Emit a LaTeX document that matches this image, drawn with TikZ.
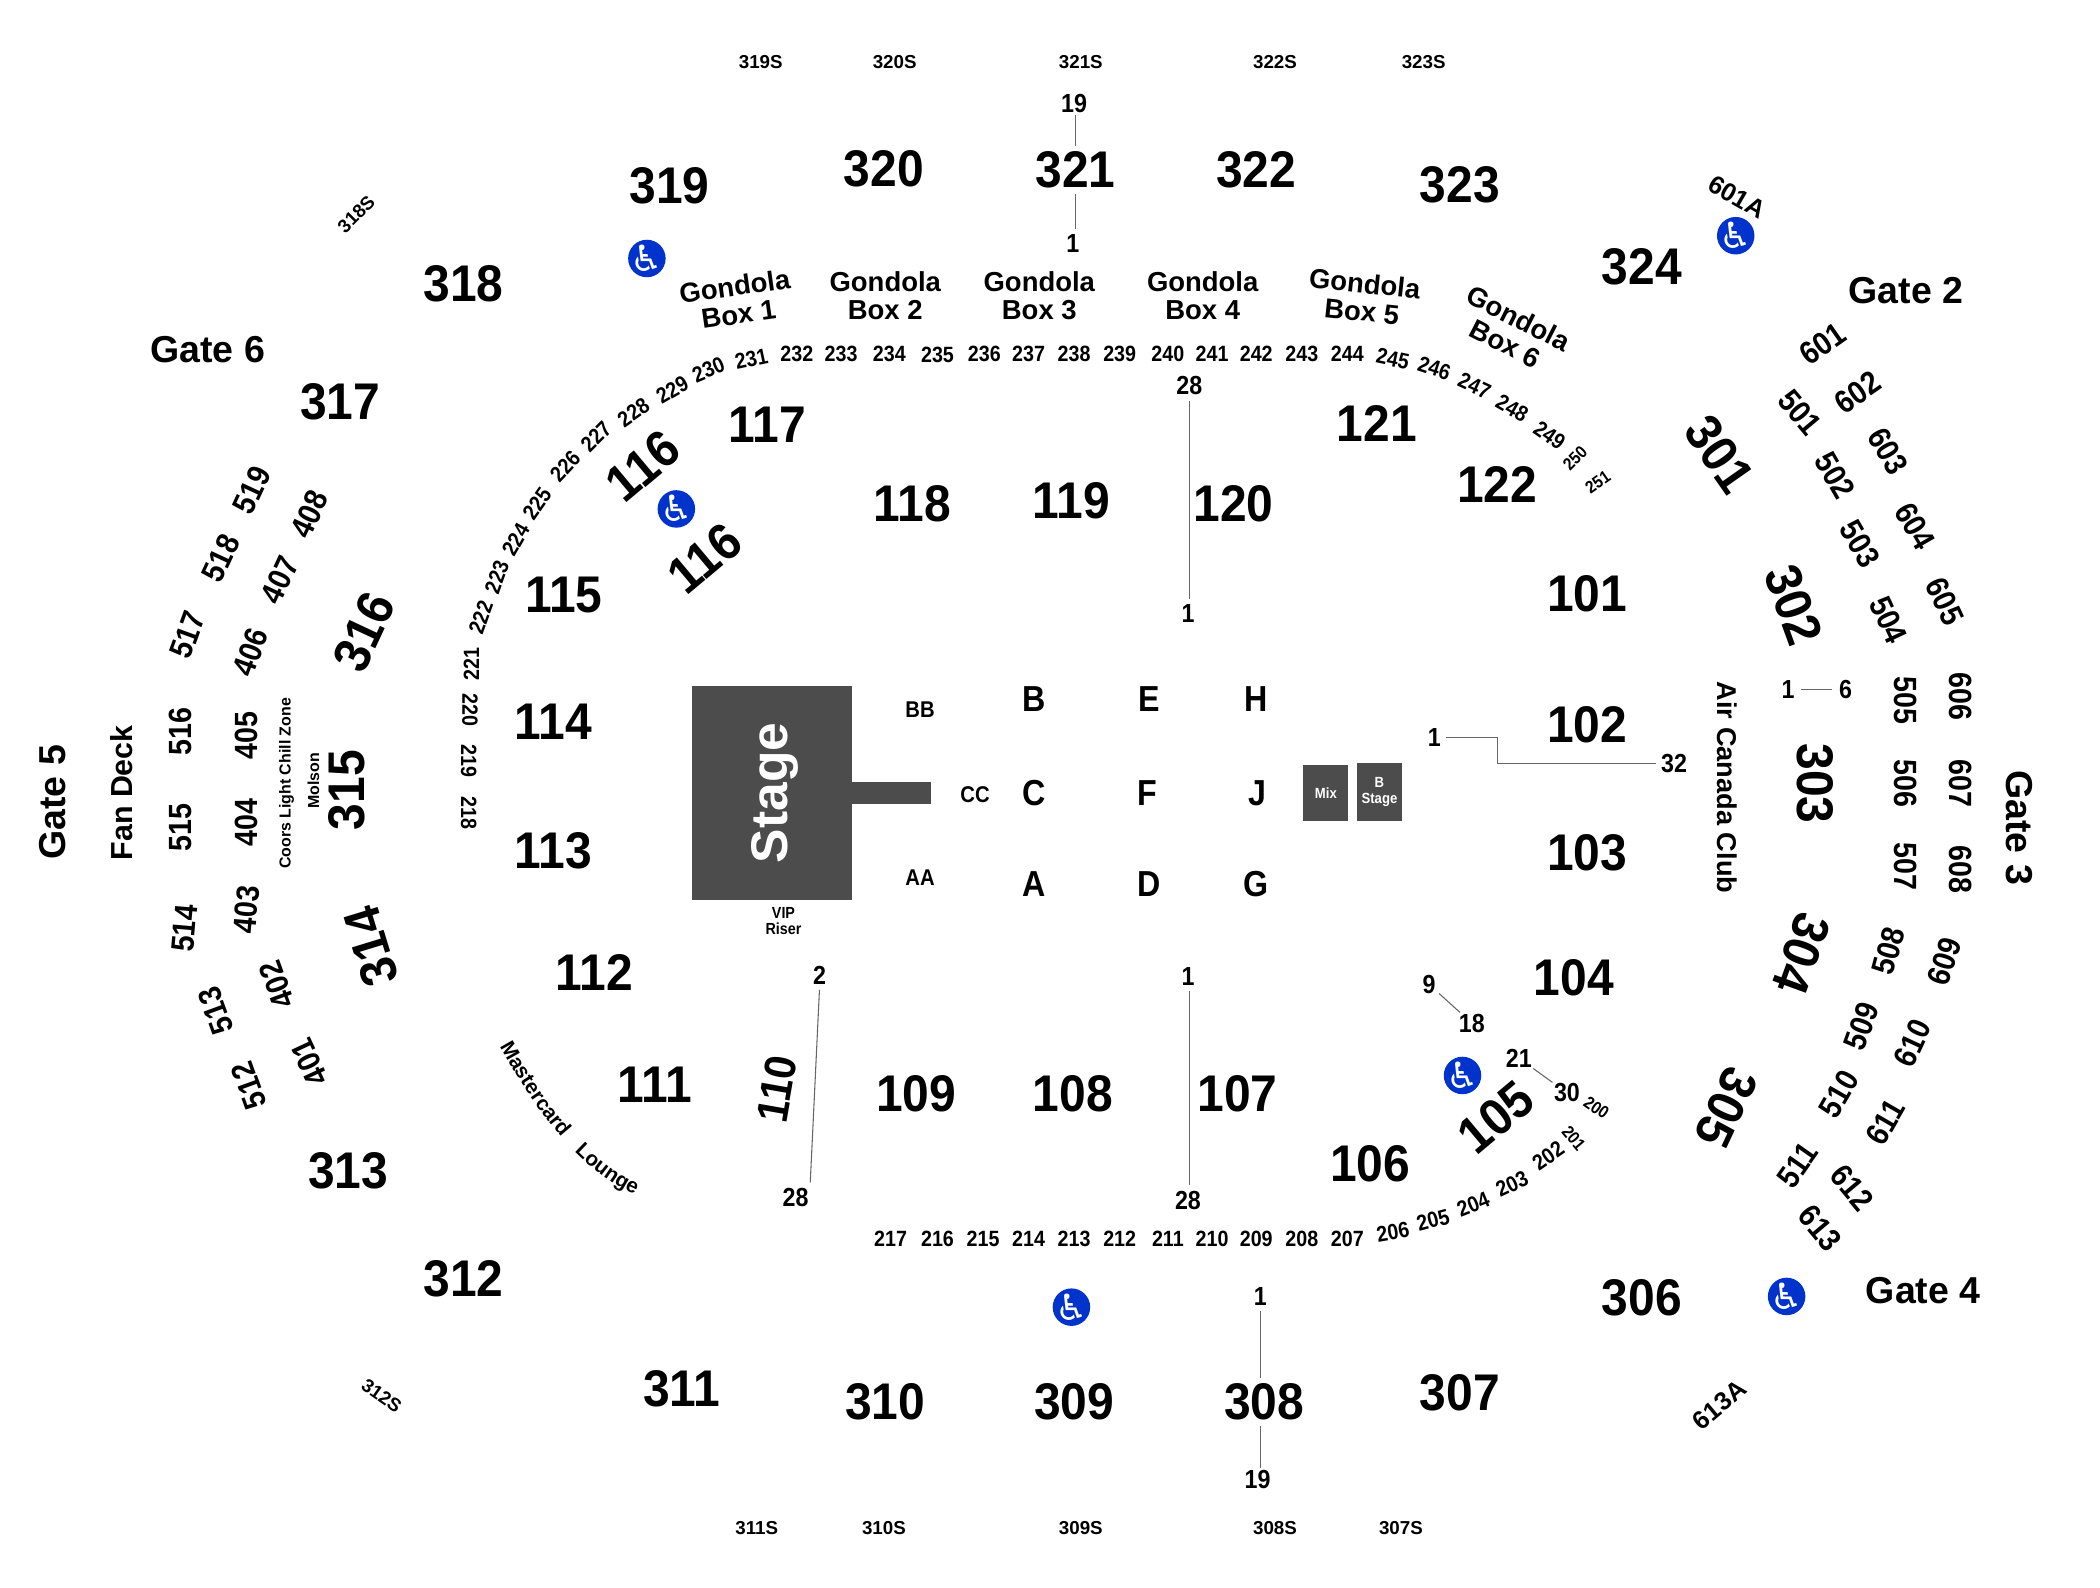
\documentclass[tikz,border=0pt]{standalone}
\usepackage{fontspec}
\setmainfont{Liberation Sans}
\newfontfamily\signfont{DejaVu Sans}
\newfontfamily\numfont[FakeStretch=0.89]{Liberation Sans}
\newfontfamily\secfont[FakeStretch=0.93]{Liberation Sans}
\usepackage{tikz}
\usetikzlibrary{decorations.text}

\begin{document}
\begin{tikzpicture}[x=1pt,y=-1pt,
          every node/.style={inner sep=1pt},
          secnum/.style={font=\secfont\bfseries\fontsize{38.5}{38}\selectfont},
          gatelab/.style={font=\bfseries\fontsize{28}{28}\selectfont},
          tiernum/.style={font=\numfont\bfseries\fontsize{24}{24}\selectfont},
          rownum/.style={font=\numfont\bfseries\fontsize{19.5}{20}\selectfont},
          boxnum/.style={font=\numfont\bfseries\fontsize{16.5}{16}\selectfont},
          tinynum/.style={font=\numfont\bfseries\fontsize{13}{13}\selectfont},
          standlab/.style={font=\bfseries\fontsize{14}{14}\selectfont},
          floorlab/.style={font=\numfont\bfseries\fontsize{27}{27}\selectfont},
          gondola/.style={font=\bfseries\fontsize{20.5}{21}\selectfont,align=center},
          darkbox/.style={fill=black!70,text=white,inner sep=0pt},
          access/.style={circle,fill=accessblue,text=white,minimum size=28,inner sep=0pt,font=\signfont\fontsize{27}{27}\selectfont},
          rowline/.style={draw=black!60,line width=0.8pt}]
        \definecolor{accessblue}{HTML}{0033CC}
        \newcommand{\accesssign}{\raisebox{-.36em}[0pt][0pt]{\makebox[0pt]{♿}}}
        \useasboundingbox (0,0) rectangle (1568,1185.7);

        % stage and floor
        \node[darkbox,rotate=90,minimum width=160,minimum height=119,font=\bfseries\fontsize{38.5}{38}\selectfont] (stage) at (576.5,592) {\raisebox{-11.5pt}[0pt][0pt]{Stage}};
        \node[darkbox,minimum width=59,minimum height=16] (runway) at (665.5,592) {};
        \node[darkbox,minimum width=33.5,minimum height=42,font=\numfont\bfseries\fontsize{11}{11}\selectfont] (mix) at (990,592) {Mix};
        \node[darkbox,minimum width=34,minimum height=43,align=center,font=\numfont\bfseries\fontsize{11}{12}\selectfont] (bstage) at (1030,591.5) {B\\Stage};
        \node[font=\numfont\bfseries\fontsize{12}{12}\selectfont,align=center] (vip) at (585,688) {VIP\\Riser};
        \foreach \n/\x/\y in {B/772/522,E/858/522,H/938/522,C/772/592,F/857/592,J/939/592,A/772/660,D/858/660,G/938/660}
          \node[floorlab] (L\n) at (\x,\y) {\n};
        \foreach \n/\x/\y in {BB/687/530,AA/687/655,CC/728/593}
          \node[font=\numfont\bfseries\fontsize{17}{17}\selectfont] (L\n) at (\x,\y) {\n};

        % lower bowl
        \foreach \n/\x/\y/\r in {101/1185/443/0,102/1185/541/0,103/1185/637/0,104/1175/730/0,105/1117/834/40,
            106/1023/869/0,107/924/817/0,108/801/817/0,109/684/817/0,111/489/810/0,112/444/726/0,
            113/413/635/0,114/413/539/0,115/421/444/0,117/573/317/0,118/681/376/0,119/800/374/0,120/921/376/0,
            121/1028/316/0,122/1118/362/0}
          \node[secnum,rotate=\r] (S\n) at (\x,\y) {\n};
        \node[secnum,rotate=80,font=\secfont\bfseries\fontsize{33}{33}\selectfont] (S110) at (580,813) {110};
        \node[secnum,rotate=40] (S116a) at (480,348) {116};
        \node[secnum,rotate=40] (S116b) at (526,417) {116};

        % upper bowl
        \foreach \n/\x/\y/\r in {301/1284/339/-55,302/1339/452/-70,303/1355/585/-90,304/1345/712/-110,305/1289/827/-115,
            306/1226/969/0,307/1090/1040/0,308/944/1047/0,309/802/1047/0,310/661/1047/0,311/509/1037/0,312/346/955/0,
            313/260/874/0,314/277/707/107,315/259/590/90,316/272/472/65,317/254/300/0,318/346/212/0,319/500/139/0,
            320/660/126/0,321/803/127/0,322/938/127/0,323/1090/138/0,324/1226/199/0}
          \node[secnum,rotate=\r] (S\n) at (\x,\y) {\n};

        % outer tiers
        \foreach \n/\x/\y/\r in {401/231/793/115,402/207/735/110,403/184/679/85,404/184/614/90,405/184/549/90,406/187/487/70,
            407/209/433/65,408/231/384/65,501/1344/308/-50,502/1370/355/-60,503/1389/406/-60,504/1410/463/-65,505/1423/523/-90,
            506/1423/585/-90,507/1423/647/-90,508/1410/710/75,509/1390/766/70,510/1373/817/60,511/1342/870/55,512/186/811/110,
            513/161/755/110,514/138/693/85,515/135/618/90,516/135/546/90,517/140/474/70,518/165/417/65,519/188/366/65,
            601/1361/257/35,602/1387/293/35,603/1410/337/-60,604/1430/393/-60,605/1452/449/-65,606/1464/520/-90,607/1464/585/-90,
            608/1464/649/-90,609/1452/718/72,610/1428/779/65,611/1408/838/60,612/1383/887/-50,613/1359/917/-50}
          \node[tiernum,rotate=\r] (S\n) at (\x,\y) {\n};
        \node[font=\bfseries\fontsize{19}{19}\selectfont,rotate=-30] (S601A) at (1297,147) {601A};
        \node[font=\bfseries\fontsize{19}{19}\selectfont,rotate=40] (S613A) at (1284,1049) {613A};

        % standing rooms
        \foreach \n/\x/\y/\r in {319S/568/46/0,320S/668/46/0,321S/807/46/0,322S/952/46/0,323S/1063/46/0,318S/266/160/45,
            312S/285/1042/-35,311S/565/1141/0,310S/660/1141/0,309S/807/1141/0,308S/952/1141/0,307S/1046/1141/0}
          \node[standlab,rotate=\r] (S\n) at (\x,\y) {\n};

        % gondola row
        \foreach \n/\x/\y/\r in {206/1040/920/10,205/1070/911/15,204/1100/899/22,203/1129/884/25,202/1156/863/35,
            207/1006/925/0,208/972/925/0,209/938/925/0,210/905/925/0,211/872/925/0,212/836/925/0,213/802/925/0,214/768/925/0,
            215/734/925/0,216/700/925/0,217/665/925/0,218/350/607/-90,219/350/568/-90,220/351/530/-90,221/352/496/90,
            222/359/461/70,223/371/431/70,224/385/403/60,225/401/376/55,226/422/348/47,227/445/326/45,228/473/308/35,
            229/502/291/30,230/529/276/23,231/561/268/12,232/595/264/0,233/628/264/0,234/664/264/0,235/700/265/0,236/735/264/0,
            237/768/264/0,238/802/264/0,239/836/264/0,240/872/264/0,241/905/264/0,242/938/264/0,243/972/264/0,244/1006/264/0,
            245/1040/268/-12,246/1071/275/-18,247/1101/288/-25,248/1129/305/-30,249/1157/325/-35}
          \node[boxnum,rotate=\r] (S\n) at (\x,\y) {\n};
        \foreach \n/\x/\y/\r in {200/1192/827/-35,201/1175/850/-50,250/1176/342/45,251/1193/360/35}
          \node[tinynum,rotate=\r] (S\n) at (\x,\y) {\n};

        % gondola boxes
        \node[gondola,rotate=8] (G1) at (550,224) {Gondola\\Box 1};
        \node[gondola] (G2) at (661,221) {Gondola\\Box 2};
        \node[gondola] (G3) at (776,221) {Gondola\\Box 3};
        \node[gondola] (G4) at (898,221) {Gondola\\Box 4};
        \node[gondola,rotate=-6] (G5) at (1018,222) {Gondola\\Box 5};
        \node[gondola,rotate=-27] (G6) at (1129,247) {Gondola\\Box 6};

        % gates and lounges
        \node[gatelab] (gate6) at (155,261) {Gate 6};
        \node[gatelab] (gate2) at (1423,217) {Gate 2};
        \node[gatelab] (gate4) at (1436,964) {Gate 4};
        \node[gatelab,rotate=90] (gate5) at (39,599) {Gate 5};
        \node[gatelab,rotate=-90] (gate3) at (1508,618) {Gate 3};
        \node[font=\bfseries\fontsize{22.7}{23}\selectfont,rotate=90] (fandeck) at (91,592) {Fan Deck};
        \node[font=\bfseries\fontsize{20.3}{21}\selectfont,rotate=-90] (aircanada) at (1290,588) {Air Canada Club};
        \node[font=\bfseries\fontsize{11.9}{12}\selectfont,rotate=90] (coors) at (214,585) {Coors Light Chill Zone};
        \node[font=\bfseries\fontsize{11.9}{12}\selectfont,rotate=90] (molson) at (234,583) {Molson};
        \path[decorate,decoration={text along path,text align=fit to path stretching spaces,
            text={|\bfseries\fontsize{15.5}{15}\selectfont|Mastercard Lounge}}]
            (373,781) .. controls (392,815) and (425,870) .. (474,892);

        % access signs
        \foreach \n/\x/\y in {a/483/193,b/505/380,c/1296/176,d/800/976,e/1334/968,f/1092/803}
          \node[access] (W\n) at (\x,\y) {\accesssign};

        % row numbers and their lines
        \node[rownum] (R19a) at (802,77) {19};
        \node[rownum] (R1a) at (801,182) {1};
        \draw[rowline,shorten <=1pt,shorten >=3pt] (R19a.south -| S321) -- (S321.north);
        \draw[rowline,shorten <=3pt,shorten >=3pt] (S321.south) -- (R1a.north -| S321);
        \node[rownum] (R28b) at (888,288) {28};
        \node[rownum] (R1b) at (887,458) {1};
        \draw[rowline,shorten <=3pt,shorten >=3pt] (R28b.south) -- (R28b.south |- R1b.north);
        \node[rownum] (R1c) at (887,729) {1};
        \node[rownum] (R28c) at (887,896) {28};
        \draw[rowline,shorten <=3pt,shorten >=3pt] (R28b.south |- R1c.south) -- (R28b.south |- R28c.north);
        \node[rownum] (R2d) at (612,728) {2};
        \node[rownum] (R28d) at (594,894) {28};
        \draw[rowline,shorten <=3pt,shorten >=3pt] (R2d.south) -- (R28d.north east);
        \node[rownum] (R1e) at (941,968) {1};
        \node[rownum] (R19e) at (939,1105) {19};
        \draw[rowline,shorten <=3pt,shorten >=3pt] (R1e.south) -- (R1e.south |- S308.north);
        \draw[rowline,shorten <=3pt,shorten >=1pt] (R1e.south |- S308.south) -- (R1e.south |- R19e.north);
        \node[rownum] (R1f) at (1071,551) {1};
        \node[rownum] (R32f) at (1250,570) {32};
        \coordinate (bendA) at (1118,551);
        \coordinate (bendB) at (1118,570);
        \draw[rowline,shorten <=3pt,shorten >=3pt] (R1f.east) -- (bendA) -- (bendB) -- (R32f.west);
        \node[rownum] (R1g) at (1335,515) {1};
        \node[rownum] (R6g) at (1378,515) {6};
        \draw[rowline,shorten <=4pt,shorten >=4pt] (R1g) -- (R6g);
        \node[rownum] (R9h) at (1067,735) {9};
        \node[rownum] (R18h) at (1099,764) {18};
        \draw[rowline,shorten <=2pt] (R9h) -- (R18h);
        \node[rownum] (R21i) at (1134,790) {21};
        \node[rownum] (R30i) at (1170,816) {30};
        \draw[rowline] (R21i) -- (R30i);
\end{tikzpicture}
\end{document}
